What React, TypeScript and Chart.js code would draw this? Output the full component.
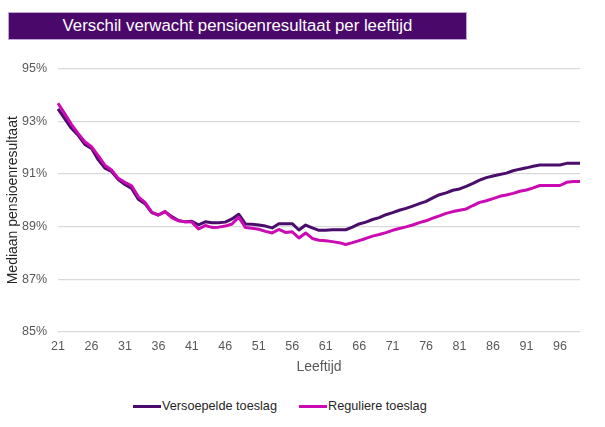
import { useEffect, useRef } from "react"
import { Chart, registerables } from "chart.js"

Chart.register(...registerables)

// leeftijden 21 t/m 99
const ages: number[] = Array.from({ length: 79 }, (_, i) => 21 + i)

const versoepeld: number[] = [
  93.47, 93.1, 92.73, 92.47, 92.12, 91.97, 91.54, 91.22, 91.09, 90.79,
  90.6, 90.45, 90.04, 89.87, 89.53, 89.44, 89.57, 89.38, 89.23, 89.18,
  89.2, 89.07, 89.18, 89.15, 89.15, 89.17, 89.29, 89.47, 89.1, 89.09,
  89.06, 89.02, 88.95, 89.11, 89.11, 89.11, 88.87, 89.06, 88.95, 88.86,
  88.86, 88.88, 88.88, 88.88, 88.98, 89.1, 89.17, 89.27, 89.34, 89.45,
  89.53, 89.62, 89.69, 89.78, 89.87, 89.96, 90.09, 90.21, 90.28, 90.38,
  90.43, 90.53, 90.64, 90.76, 90.86, 90.92, 90.98, 91.03, 91.12, 91.18,
  91.23, 91.29, 91.34, 91.34, 91.34, 91.34, 91.4, 91.4, 91.4,
]

const regulier: number[] = [
  93.68, 93.29, 92.88, 92.54, 92.22, 92.03, 91.69, 91.33, 91.15, 90.83,
  90.68, 90.55, 90.13, 89.92, 89.55, 89.44, 89.57, 89.34, 89.22, 89.18,
  89.17, 88.91, 89.04, 88.97, 88.98, 89.02, 89.1, 89.36, 88.97, 88.94,
  88.9, 88.82, 88.76, 88.89, 88.78, 88.8, 88.57, 88.76, 88.55, 88.48,
  88.46, 88.43, 88.39, 88.32, 88.39, 88.47, 88.55, 88.64, 88.7, 88.77,
  88.86, 88.93, 88.99, 89.06, 89.15, 89.22, 89.32, 89.41, 89.5, 89.57,
  89.62, 89.67, 89.8, 89.92, 89.98, 90.06, 90.15, 90.2, 90.26, 90.34,
  90.39, 90.47, 90.56, 90.56, 90.56, 90.56, 90.68, 90.71, 90.71,
]

const seriesNames = ["Versoepelde toeslag", "Reguliere toeslag"]
const seriesColors = ["#4a0d6c", "#cc0ab4"]

const FONT = "'Liberation Sans', Arial, sans-serif"

export default function App() {
  const chartRef = useRef<HTMLCanvasElement>(null)
  const chartInstance = useRef<Chart | null>(null)

  useEffect(() => {
    if (!chartRef.current) return
    if (chartInstance.current) chartInstance.current.destroy()

    const ctx = chartRef.current.getContext("2d")
    if (!ctx) return

    chartInstance.current = new Chart(ctx, {
      type: "line",
      data: {
        labels: ages,
        datasets: [
          {
            label: seriesNames[0],
            data: versoepeld,
            borderColor: seriesColors[0],
            borderWidth: 3,
            pointRadius: 0,
            tension: 0,
            borderJoinStyle: "round",
            order: 1,
          },
          {
            label: seriesNames[1],
            data: regulier,
            borderColor: seriesColors[1],
            borderWidth: 3,
            pointRadius: 0,
            tension: 0,
            borderJoinStyle: "round",
            order: 0,
          },
        ],
      },
      options: {
        animation: false,
        responsive: true,
        maintainAspectRatio: false,
        layout: { padding: { left: 0, right: 25, top: 16, bottom: 0 } },
        plugins: {
          legend: { display: false },
          tooltip: { enabled: false },
        },
        scales: {
          x: {
            offset: false,
            grid: { display: false, drawTicks: false },
            border: { display: false },
            afterFit: (scale) => {
              scale.height = 48
            },
            ticks: {
              autoSkip: false,
              maxRotation: 0,
              padding: 7,
              color: "#595959",
              font: { family: FONT, size: 12.5 },
              callback: (_v, i) => (i % 5 === 0 ? String(ages[i]) : ""),
            },
            title: {
              display: true,
              text: "Leeftijd",
              color: "#595959",
              font: { family: FONT, size: 14 },
              padding: { top: 0, bottom: 4.6 },
            },
          },
          y: {
            min: 85,
            max: 95,
            grid: { color: "#d9d9d9", lineWidth: 1.3, drawTicks: false },
            border: { display: false },
            afterFit: (scale) => {
              scale.width = 58
            },
            ticks: {
              stepSize: 2,
              padding: 11,
              color: "#595959",
              font: { family: FONT, size: 12.5 },
              callback: (v) => `${v}%`,
            },
            title: {
              display: true,
              text: "Mediaan pensioenresultaat",
              color: "#262626",
              font: { family: FONT, size: 14 },
              padding: { top: 4.6, bottom: 0 },
            },
          },
        },
      },
    })

    return () => {
      if (chartInstance.current) {
        chartInstance.current.destroy()
        chartInstance.current = null
      }
    }
  }, [])

  return (
    <div
      style={{
        position: "absolute",
        left: 0,
        top: 0,
        width: 605,
        height: 427,
        background: "#fff",
        fontFamily: FONT,
      }}
    >
      <div
        style={{
          position: "absolute",
          left: 8,
          top: 12,
          width: 457,
          height: 26,
          background: "#4b086b",
          border: "1px solid #bca8cf",
          color: "#fff",
          fontSize: 16.8,
          lineHeight: "26px",
          textAlign: "center",
        }}
      >
        Verschil verwacht pensioenresultaat per leeftijd
      </div>
      <div style={{ position: "absolute", left: 0, top: 50, width: 605, height: 330 }}>
        <canvas ref={chartRef} />
      </div>
      <div
        style={{
          position: "absolute",
          left: 133,
          top: 398,
          height: 16,
          display: "flex",
          alignItems: "center",
          fontSize: 12.7,
          color: "#262626",
        }}
      >
        {seriesNames.map((name, i) => (
          <div key={name} style={{ display: "flex", alignItems: "center", marginRight: 22 }}>
            <span
              style={{
                display: "inline-block",
                width: 28,
                height: 3,
                background: seriesColors[i],
                marginRight: 1,
              }}
            />
            <span>{name}</span>
          </div>
        ))}
      </div>
    </div>
  )
}
